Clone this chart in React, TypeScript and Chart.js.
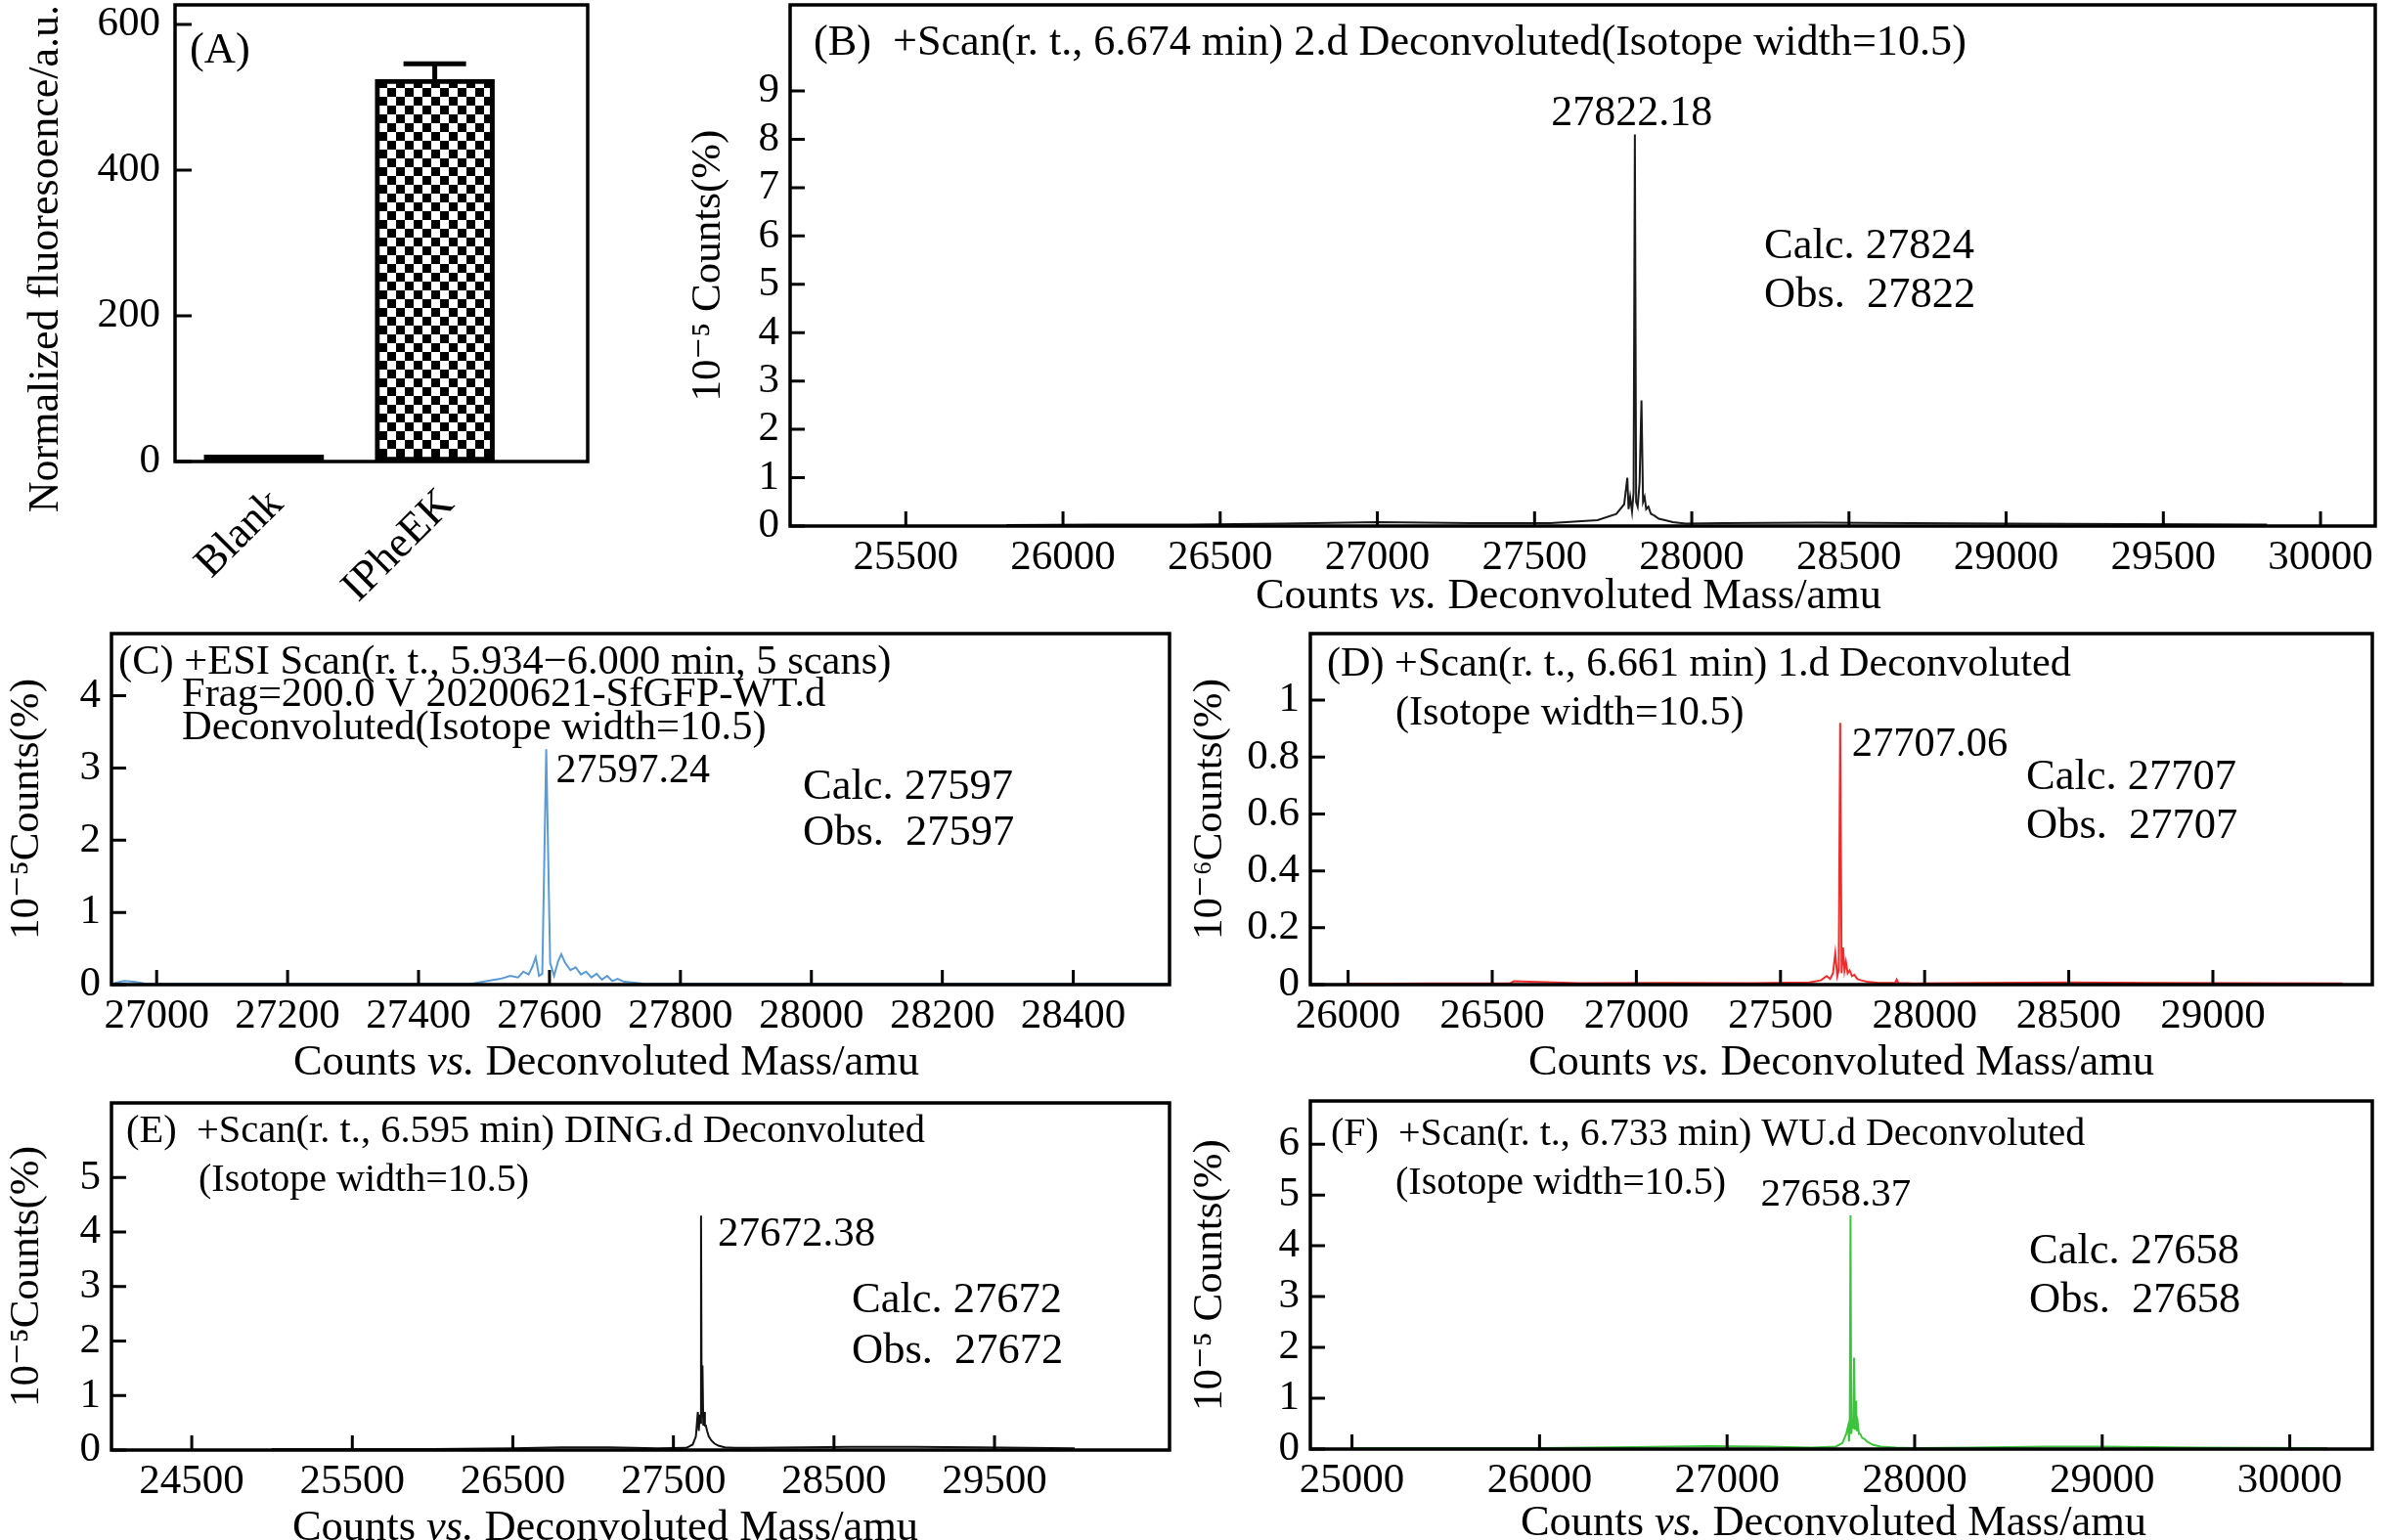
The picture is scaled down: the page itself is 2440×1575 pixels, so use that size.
import { useEffect, useRef } from "react";
import { Chart, registerables } from "chart.js";

Chart.register(...registerables);

const FONT = "'Liberation Serif', 'Times New Roman', 'DejaVu Serif', serif";
const SIZE = 43;
const TEXT = 44.5;
const ink = "#000";

// ---- (A) fluorescence bars ----
const aLabels = ["Blank", "IPheEK"];
const aSlots = [1, 2];
const aValues = [9, 525];
const aErrors = [0, 21];
const aTicks = [0, 200, 400, 600];

// ---- (B) ----
const bMass = [25820, 26100, 26400, 26700, 27000, 27300, 27550, 27700, 27760, 27785, 27795, 27799, 27804, 27810, 27815, 27819, 27823, 27828, 27834, 27840, 27845, 27850, 27855, 27862, 27870, 27880, 27895, 27915, 27940, 27980, 28100, 28400, 28700, 29000, 29400, 29830];
const bCounts = [0.02, 0.03, 0.03, 0.05, 0.08, 0.06, 0.06, 0.12, 0.25, 0.45, 1.0, 0.35, 0.6, 0.3, 0.7, 8.1, 0.5, 0.4, 0.9, 2.6, 0.5, 0.6, 0.35, 0.4, 0.25, 0.22, 0.15, 0.12, 0.08, 0.05, 0.06, 0.07, 0.06, 0.05, 0.04, 0.03];
const bXTicks = [25500, 26000, 26500, 27000, 27500, 28000, 28500, 29000, 29500, 30000];
const bYTicks = [0, 1, 2, 3, 4, 5, 6, 7, 8, 9];

// ---- (C) ----
const cMass = [26935, 26950, 26965, 26985, 27100, 27300, 27480, 27505, 27525, 27540, 27552, 27560, 27568, 27574, 27579, 27584, 27589, 27595, 27601, 27607, 27613, 27618, 27624, 27632, 27640, 27648, 27656, 27664, 27672, 27680, 27688, 27696, 27704, 27714, 27726, 27745, 27800, 28000, 28300, 28545];
const cCounts = [0.02, 0.05, 0.04, 0.01, 0.01, 0.01, 0.01, 0.05, 0.08, 0.12, 0.1, 0.18, 0.14, 0.25, 0.38, 0.12, 0.15, 3.26, 0.3, 0.12, 0.32, 0.42, 0.3, 0.2, 0.24, 0.14, 0.18, 0.1, 0.15, 0.07, 0.12, 0.05, 0.08, 0.04, 0.03, 0.01, 0.01, 0.01, 0.01, 0.01];
const cXTicks = [27000, 27200, 27400, 27600, 27800, 28000, 28200, 28400];
const cYTicks = [0, 1, 2, 3, 4];

// ---- (D) ----
const dMass = [26000, 26300, 26560, 26575, 26800, 27100, 27400, 27600, 27640, 27660, 27672, 27682, 27690, 27697, 27702, 27707, 27712, 27717, 27722, 27727, 27733, 27740, 27748, 27756, 27766, 27780, 27800, 27840, 27898, 27903, 27908, 27960, 28200, 28500, 28800, 29100, 29450];
const dCounts = [0.003, 0.004, 0.004, 0.012, 0.005, 0.006, 0.005, 0.008, 0.015, 0.03, 0.02, 0.04, 0.11, 0.03, 0.05, 0.92, 0.04, 0.13, 0.05, 0.08, 0.04, 0.05, 0.03, 0.035, 0.02, 0.015, 0.01, 0.006, 0.006, 0.018, 0.006, 0.004, 0.006, 0.008, 0.006, 0.005, 0.004];
const dXTicks = [26000, 26500, 27000, 27500, 28000, 28500, 29000];
const dYTicks = [0, 0.2, 0.4, 0.6, 0.8, 1];

// ---- (E) ----
const eMass = [25000, 25500, 26000, 26500, 26800, 27100, 27400, 27580, 27620, 27640, 27652, 27658, 27664, 27668, 27672, 27676, 27681, 27686, 27691, 27696, 27702, 27710, 27720, 27735, 27755, 27780, 27820, 27880, 28000, 28300, 28600, 29000, 29400, 30000];
const eCounts = [0.02, 0.02, 0.02, 0.03, 0.05, 0.05, 0.03, 0.04, 0.1, 0.25, 0.7, 0.35, 0.65, 0.5, 4.3, 0.6, 1.55, 0.45, 0.7, 0.45, 0.45, 0.35, 0.25, 0.18, 0.12, 0.08, 0.05, 0.04, 0.04, 0.05, 0.06, 0.06, 0.05, 0.03];
const eXTicks = [24500, 25500, 26500, 27500, 28500, 29500];
const eYTicks = [0, 1, 2, 3, 4, 5];

// ---- (F) ----
const fMass = [25000, 25500, 26000, 26500, 26900, 27200, 27450, 27580, 27615, 27635, 27645, 27650, 27654, 27658, 27662, 27667, 27672, 27677, 27682, 27687, 27692, 27697, 27703, 27710, 27720, 27732, 27745, 27760, 27780, 27820, 27900, 28000, 28300, 28700, 29000, 29500, 30200];
const fCounts = [0.02, 0.02, 0.02, 0.04, 0.06, 0.05, 0.03, 0.05, 0.12, 0.3, 0.45, 0.15, 0.4, 4.6, 0.3, 0.5, 0.4, 1.8, 0.4, 0.95, 0.35, 0.5, 0.3, 0.3, 0.22, 0.2, 0.15, 0.12, 0.08, 0.05, 0.03, 0.02, 0.03, 0.05, 0.05, 0.03, 0.02];
const fXTicks = [25000, 26000, 27000, 28000, 29000, 30000];
const fYTicks = [0, 1, 2, 3, 4, 5, 6];

type Note = { text: string; x: number; y: number; size?: number };

type Spec = {
  key: string;
  box: number[]; // canvas left, top, width, height on the page
  area: number[]; // frame left, top, right, bottom on the page
  mass: number[];
  counts: number[];
  color: string;
  xRange: number[];
  yRange: number[];
  xTicks: number[];
  yTicks: number[];
  yTitle: string;
  yTitleX: number;
  xTitleX: number;
  xTitleY: number;
  peakText: string;
  peakSize: number;
  peakAlign: CanvasTextAlign;
  peakDx: number;
  peakDy: number;
  notes: Note[];
};

const specs: Spec[] = [
  {
    key: "B",
    box: [680, 0, 1760, 640],
    area: [808, 5, 2429, 538],
    mass: bMass,
    counts: bCounts,
    color: "#1a1a1a",
    xRange: [25132, 30174],
    yRange: [0, 10.78],
    xTicks: bXTicks,
    yTicks: bYTicks,
    yTitle: "10⁻⁵ Counts(%)",
    yTitleX: 725,
    xTitleX: 1604,
    xTitleY: 610,
    peakText: "27822.18",
    peakSize: 44,
    peakAlign: "center",
    peakDx: -3,
    peakDy: -21,
    notes: [
      { text: "(B)  +Scan(r. t., 6.674 min) 2.d Deconvoluted(Isotope width=10.5)", x: 832, y: 44, size: 44.2 },
      { text: "Calc. 27824", x: 1804, y: 252 },
      { text: "Obs.  27822", x: 1804, y: 302 },
    ],
  },
  {
    key: "C",
    box: [0, 630, 1220, 490],
    area: [114, 648, 1196, 1007],
    mass: cMass,
    counts: cCounts,
    color: "#5b9bd5",
    xRange: [26931, 28547],
    yRange: [0, 4.86],
    xTicks: cXTicks,
    yTicks: cYTicks,
    yTitle: "10⁻⁵Counts(%)",
    yTitleX: 28,
    xTitleX: 620,
    xTitleY: 1087,
    peakText: "27597.24",
    peakSize: 42,
    peakAlign: "left",
    peakDx: 10,
    peakDy: 23,
    notes: [
      { text: "(C) +ESI Scan(r. t., 5.934−6.000 min, 5 scans)", x: 121, y: 678, size: 42.5 },
      { text: "Frag=200.0 V 20200621-SfGFP-WT.d", x: 186, y: 711, size: 42.5 },
      { text: "Deconvoluted(Isotope width=10.5)", x: 186, y: 745, size: 42.5 },
      { text: "Calc. 27597", x: 821, y: 805 },
      { text: "Obs.  27597", x: 821, y: 852 },
    ],
  },
  {
    key: "D",
    box: [1215, 630, 1225, 490],
    area: [1340, 648, 2426, 1007],
    mass: dMass,
    counts: dCounts,
    color: "#ee2c2c",
    xRange: [25869, 29553],
    yRange: [0, 1.234],
    xTicks: dXTicks,
    yTicks: dYTicks,
    yTitle: "10⁻⁶Counts(%)",
    yTitleX: 1238,
    xTitleX: 1883,
    xTitleY: 1087,
    peakText: "27707.06",
    peakSize: 42.5,
    peakAlign: "left",
    peakDx: 12,
    peakDy: 22,
    notes: [
      { text: "(D) +Scan(r. t., 6.661 min) 1.d Deconvoluted", x: 1357, y: 680, size: 42.2 },
      { text: "(Isotope width=10.5)", x: 1427, y: 730, size: 42.2 },
      { text: "Calc. 27707", x: 2072, y: 795 },
      { text: "Obs.  27707", x: 2072, y: 845 },
    ],
  },
  {
    key: "E",
    box: [0, 1110, 1220, 465],
    area: [114, 1128, 1196, 1483],
    mass: eMass,
    counts: eCounts,
    color: "#111111",
    xRange: [24000, 30590],
    yRange: [0, 6.37],
    xTicks: eXTicks,
    yTicks: eYTicks,
    yTitle: "10⁻⁵Counts(%)",
    yTitleX: 28,
    xTitleX: 619,
    xTitleY: 1563,
    peakText: "27672.38",
    peakSize: 43,
    peakAlign: "left",
    peakDx: 17,
    peakDy: 19,
    notes: [
      { text: "(E)  +Scan(r. t., 6.595 min) DING.d Deconvoluted", x: 129, y: 1157, size: 40.5 },
      { text: "(Isotope width=10.5)", x: 203, y: 1207, size: 40 },
      { text: "Calc. 27672", x: 871, y: 1330 },
      { text: "Obs.  27672", x: 871, y: 1382 },
    ],
  },
  {
    key: "F",
    box: [1215, 1110, 1225, 465],
    area: [1340, 1126, 2426, 1482],
    mass: fMass,
    counts: fCounts,
    color: "#3cc43c",
    xRange: [24778, 30440],
    yRange: [0, 6.85],
    xTicks: fXTicks,
    yTicks: fYTicks,
    yTitle: "10⁻⁵ Counts(%)",
    yTitleX: 1238,
    xTitleX: 1875,
    xTitleY: 1558,
    peakText: "27658.37",
    peakSize: 41,
    peakAlign: "center",
    peakDx: -15,
    peakDy: -21,
    notes: [
      { text: "(F)  +Scan(r. t., 6.733 min) WU.d Deconvoluted", x: 1361, y: 1160, size: 40 },
      { text: "(Isotope width=10.5)", x: 1427, y: 1210, size: 40 },
      { text: "Calc. 27658", x: 2075, y: 1280 },
      { text: "Obs.  27658", x: 2075, y: 1330 },
    ],
  },
];

function drawXTitle(ctx: CanvasRenderingContext2D, cx: number, cy: number) {
  const parts: [string, boolean][] = [
    ["Counts ", false],
    ["vs.", true],
    [" Deconvoluted Mass/amu", false],
  ];
  const fontOf = (it: boolean) => `${it ? "italic " : ""}${TEXT}px ${FONT}`;
  let total = 0;
  parts.forEach(([t, it]) => {
    ctx.font = fontOf(it);
    total += ctx.measureText(t).width;
  });
  let x = cx - total / 2;
  ctx.textAlign = "left";
  ctx.textBaseline = "middle";
  parts.forEach(([t, it]) => {
    ctx.font = fontOf(it);
    ctx.fillText(t, x, cy);
    x += ctx.measureText(t).width;
  });
}

function drawFrame(chart: Chart, xTicks: number[], yTicks: number[], tick: number) {
  const { ctx, chartArea: ca, scales } = chart;
  ctx.save();
  ctx.strokeStyle = ink;
  ctx.lineWidth = 3.5;
  ctx.strokeRect(ca.left, ca.top, ca.right - ca.left, ca.bottom - ca.top);
  ctx.lineWidth = 3;
  ctx.beginPath();
  xTicks.forEach((v) => {
    const px = scales.x.getPixelForValue(v);
    ctx.moveTo(px, ca.bottom);
    ctx.lineTo(px, ca.bottom - tick);
  });
  yTicks.forEach((v) => {
    const py = scales.y.getPixelForValue(v);
    ctx.moveTo(ca.left, py);
    ctx.lineTo(ca.left + tick, py);
  });
  ctx.stroke();
  ctx.restore();
}

function tickFont() {
  return { family: FONT, size: SIZE };
}

function SpectrumPanel({ spec }: { spec: Spec }) {
  const ref = useRef<HTMLCanvasElement>(null);

  useEffect(() => {
    const canvas = ref.current;
    if (!canvas) return;
    const [bl, bt, bw, bh] = spec.box;
    const [al, at, ar, ab] = spec.area;

    const decor = {
      id: "decor" + spec.key,
      afterDraw(chart: Chart) {
        const { ctx, scales } = chart;
        drawFrame(chart, spec.xTicks, spec.yTicks, 15);
        ctx.save();
        ctx.fillStyle = ink;
        ctx.textBaseline = "middle";
        ctx.textAlign = "left";
        spec.notes.forEach((n) => {
          ctx.font = `${n.size ?? TEXT}px ${FONT}`;
          ctx.fillText(n.text, n.x - bl, n.y - bt);
        });
        const top = Math.max(...spec.counts);
        const i = spec.counts.indexOf(top);
        ctx.font = `${spec.peakSize}px ${FONT}`;
        ctx.textAlign = spec.peakAlign;
        ctx.fillText(
          spec.peakText,
          scales.x.getPixelForValue(spec.mass[i]) + spec.peakDx,
          scales.y.getPixelForValue(top) + spec.peakDy,
        );
        drawXTitle(ctx, spec.xTitleX - bl, spec.xTitleY - bt);
        ctx.restore();
      },
    };

    const chart = new Chart(canvas, {
      type: "line",
      data: {
        datasets: [
          {
            data: spec.mass.map((m, i) => ({ x: m, y: spec.counts[i] })),
            borderColor: spec.color,
            borderWidth: 2,
            pointRadius: 0,
            tension: 0,
            fill: false,
          },
        ],
      },
      options: {
        animation: false,
        responsive: false,
        devicePixelRatio: 1,
        events: [],
        layout: { padding: { left: 0, top: at - bt, right: bl + bw - ar, bottom: 0 } },
        plugins: { legend: { display: false }, tooltip: { enabled: false } },
        scales: {
          x: {
            type: "linear",
            offset: false,
            min: spec.xRange[0],
            max: spec.xRange[1],
            grid: { display: false, drawTicks: false },
            border: { display: false },
            afterBuildTicks: (s: any) => {
              s.ticks = spec.xTicks.map((v) => ({ value: v }));
            },
            ticks: {
              color: ink,
              font: tickFont(),
              padding: 7,
              maxRotation: 0,
              autoSkip: false,
              callback: (v: any) => String(v),
            },
            afterFit: (s: any) => {
              s.height = bt + bh - ab;
              s.paddingLeft = 0;
              s.paddingRight = 0;
            },
          },
          y: {
            type: "linear",
            min: spec.yRange[0],
            max: spec.yRange[1],
            grid: { display: false, drawTicks: false },
            border: { display: false },
            afterBuildTicks: (s: any) => {
              s.ticks = spec.yTicks.map((v) => ({ value: v }));
            },
            ticks: {
              color: ink,
              font: tickFont(),
              padding: 11,
              autoSkip: false,
              callback: (v: any) => String(v),
            },
            title: {
              display: true,
              text: spec.yTitle,
              color: ink,
              font: { family: FONT, size: SIZE, lineHeight: 1 },
              padding: { top: spec.yTitleX - bl - SIZE / 2, bottom: 0 },
            },
            afterFit: (s: any) => {
              s.width = al - bl;
              s.paddingTop = 0;
              s.paddingBottom = 0;
            },
          },
        },
      },
      plugins: [decor],
    });
    return () => chart.destroy();
  }, [spec]);

  const [bl, bt, bw, bh] = spec.box;
  return (
    <canvas
      ref={ref}
      width={bw}
      height={bh}
      style={{ position: "absolute", left: bl, top: bt, width: bw, height: bh }}
    />
  );
}

const aBox = [0, 0, 650, 640];
const aArea = [179, 5, 601, 472];

function BarPanel() {
  const ref = useRef<HTMLCanvasElement>(null);

  useEffect(() => {
    const canvas = ref.current;
    if (!canvas) return;
    const [bl, bt, bw, bh] = aBox;
    const [al, at, ar, ab] = aArea;

    // checkerboard fill for the IPheEK bar
    const tile = document.createElement("canvas");
    tile.width = 18;
    tile.height = 18;
    const tc = tile.getContext("2d")!;
    tc.fillStyle = "#fff";
    tc.fillRect(0, 0, 18, 18);
    tc.fillStyle = "#000";
    tc.fillRect(0, 0, 9, 9);
    tc.fillRect(9, 9, 9, 9);
    const checker = canvas.getContext("2d")!.createPattern(tile, "repeat")!;

    const decor = {
      id: "decorA",
      afterDraw(chart: Chart) {
        const { ctx, scales } = chart;
        drawFrame(chart, [], aTicks, 17);
        ctx.save();
        ctx.strokeStyle = ink;
        ctx.lineWidth = 5;
        const meta = chart.getDatasetMeta(0);
        meta.data.forEach((bar: any, i: number) => {
          if (!aErrors[i]) return;
          const yTop = scales.y.getPixelForValue(aValues[i] + aErrors[i]);
          ctx.beginPath();
          ctx.moveTo(bar.x, bar.y);
          ctx.lineTo(bar.x, yTop);
          ctx.moveTo(bar.x - 32, yTop);
          ctx.lineTo(bar.x + 32, yTop);
          ctx.stroke();
        });
        ctx.fillStyle = ink;
        ctx.font = `${TEXT}px ${FONT}`;
        ctx.textBaseline = "middle";
        ctx.textAlign = "left";
        ctx.fillText("(A)", 194 - bl, 52 - bt);
        ctx.restore();
      },
    };

    const chart = new Chart(canvas, {
      type: "bar",
      data: {
        datasets: [
          {
            data: aSlots.map((x, i) => ({ x, y: aValues[i] })),
            backgroundColor: ["#000", checker],
            borderColor: "#000",
            borderWidth: [0, 5],
            borderSkipped: false,
            barThickness: 122,
          },
        ],
      },
      options: {
        animation: false,
        responsive: false,
        devicePixelRatio: 1,
        events: [],
        layout: { padding: { left: 0, top: at - bt, right: bl + bw - ar, bottom: 0 } },
        plugins: { legend: { display: false }, tooltip: { enabled: false } },
        scales: {
          x: {
            type: "linear",
            offset: false,
            min: 0.48,
            max: 2.895,
            grid: { display: false, drawTicks: false, offset: false },
            border: { display: false },
            afterBuildTicks: (s: any) => {
              s.ticks = aSlots.map((v) => ({ value: v }));
            },
            ticks: {
              color: ink,
              font: { family: FONT, size: TEXT },
              padding: 18,
              labelOffset: 13,
              minRotation: 45,
              maxRotation: 45,
              autoSkip: false,
              callback: (_v: any, i: number) => aLabels[i],
            },
            afterFit: (s: any) => {
              s.height = bt + bh - ab;
              s.paddingLeft = 0;
              s.paddingRight = 0;
            },
          },
          y: {
            type: "linear",
            min: 0,
            max: 627,
            grid: { display: false, drawTicks: false },
            border: { display: false },
            afterBuildTicks: (s: any) => {
              s.ticks = aTicks.map((v) => ({ value: v }));
            },
            ticks: {
              color: ink,
              font: tickFont(),
              padding: 15,
              callback: (v: any) => String(v),
            },
            title: {
              display: true,
              text: "Normalized fluoresoence/a.u.",
              align: "end",
              color: ink,
              font: { family: FONT, size: 44, lineHeight: 1 },
              padding: { top: 47 - bl - 22, bottom: 0 },
            },
            afterFit: (s: any) => {
              s.width = al - bl;
              s.paddingTop = 0;
              s.paddingBottom = 0;
            },
          },
        },
      },
      plugins: [decor],
    });
    return () => chart.destroy();
  }, []);

  const [bl, bt, bw, bh] = aBox;
  return (
    <canvas
      ref={ref}
      width={bw}
      height={bh}
      style={{ position: "absolute", left: bl, top: bt, width: bw, height: bh }}
    />
  );
}

export default function App() {
  return (
    <div
      style={{
        position: "absolute",
        left: 0,
        top: 0,
        width: 2440,
        height: 1575,
        background: "#fff",
        overflow: "hidden",
      }}
    >
      <BarPanel />
      {specs.map((s) => (
        <SpectrumPanel key={s.key} spec={s} />
      ))}
    </div>
  );
}
